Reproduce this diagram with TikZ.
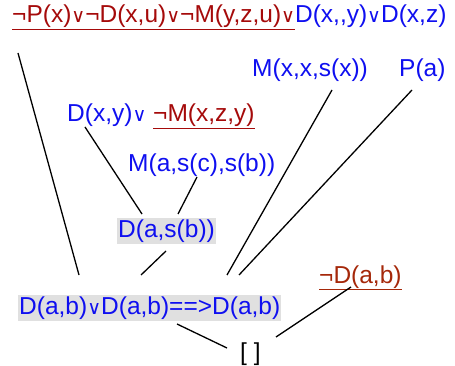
\documentclass[tikz,border=0pt]{standalone}
\usepackage{fontspec}
\setmainfont{Liberation Sans}
\newfontfamily\dv{DejaVu Sans}
\definecolor{dred}{RGB}{165,10,10}
\definecolor{bred}{RGB}{165,40,10}
\definecolor{tblue}{RGB}{15,15,240}
\definecolor{hl}{RGB}{224,224,224}
\newcommand\orr{{\dv\fontsize{19}{19}\selectfont ∨}}
\begin{document}
\begin{tikzpicture}[x=1pt,y=-1pt,
  lbl/.style={inner sep=0pt,anchor=base west,font=\fontsize{24.5}{28}\selectfont,text=tblue},
  hbox/.style={lbl,fill=hl,inner xsep=1pt,inner ysep=1.5pt},
  link/.style={line width=1.3pt,black}]
\useasboundingbox (0,0) rectangle (455,366);
\node[lbl] (top) at (12,23) {\textcolor{dred}{\underline{¬P(x)\orr¬D(x,u)\orr¬M(y,z,u)\orr}}D(x,{},y)\orr D(x,z)};
\node[lbl] (mxx) at (252,77) {M(x,x,s(x))};
\node[lbl] (pa) at (399,77) {P(a)};
\node[lbl] (dxy) at (67,122) {D(x,y)\orr\ \textcolor{dred}{\underline{¬M(x,z,y)}}};
\node[lbl] (masc) at (128,172) {M(a,s(c),s(b))};
\node[hbox] (dasb) at (117,237) {D(a,s(b))};
\node[hbox] (bot) at (18,314) {D(a,b)\orr D(a,b)==>D(a,b)};
\node[lbl,text=bred] (nd) at (319,283) {\underline{¬D(a,b)}};
\node[lbl,text=black] (empty) at (240,360) {[ ]};
% connector end points
\coordinate (c1a) at (18,53);   \coordinate (c1b) at (79,275);
\coordinate (c2a) at (85,127);  \coordinate (c2b) at (142,214);
\coordinate (c3a) at (197,177); \coordinate (c3b) at (178,214);
\coordinate (c4a) at (166,251); \coordinate (c4b) at (141,275);
\coordinate (c5a) at (332,90);  \coordinate (c5b) at (227,275);
\coordinate (c6a) at (412,90);  \coordinate (c6b) at (239,275);
\coordinate (c7a) at (177,324); \coordinate (c7b) at (227,348);
\coordinate (c8a) at (351,287); \coordinate (c8b) at (276,337);
\draw[link] (c1a) -- (c1b);
\draw[link] (c2a) -- (c2b);
\draw[link] (c3a) -- (c3b);
\draw[link] (c4a) -- (c4b);
\draw[link] (c5a) -- (c5b);
\draw[link] (c6a) -- (c6b);
\draw[link] (c7a) -- (c7b);
\draw[link] (c8a) -- (c8b);
\end{tikzpicture}
\end{document}
